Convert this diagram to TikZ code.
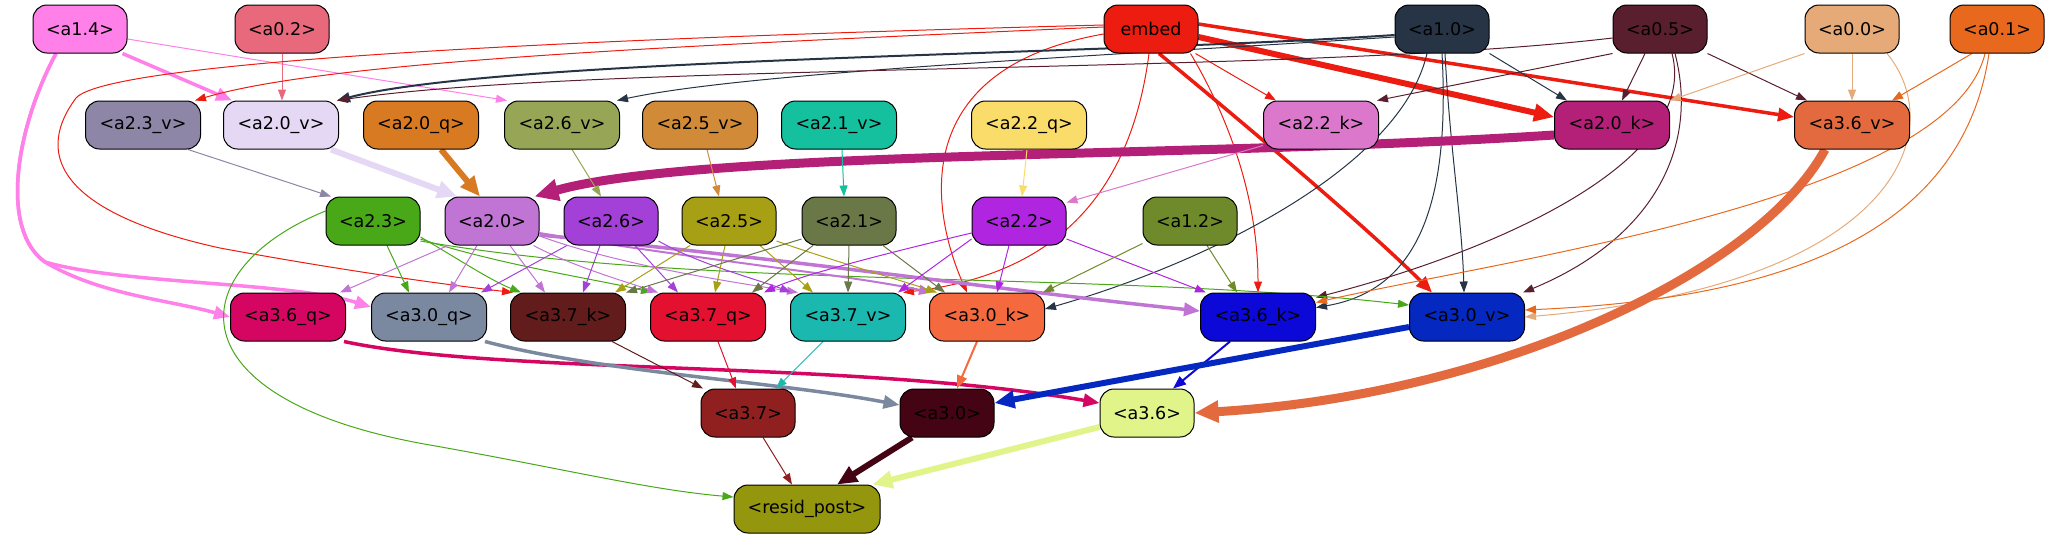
\documentclass[tikz,border=0pt]{standalone}
\usepackage{fontspec}
\setmainfont{DejaVu Sans}
\usetikzlibrary{arrows.meta,backgrounds}
\definecolor{c14}{HTML}{FF80E8}
\definecolor{c02}{HTML}{E8687C}
\definecolor{cemb}{HTML}{EC1C10}
\definecolor{c10}{HTML}{263445}
\definecolor{c05}{HTML}{5A1F2E}
\definecolor{c00}{HTML}{E5AA78}
\definecolor{c01}{HTML}{E8691E}
\definecolor{c23v}{HTML}{8E86A6}
\definecolor{c20v}{HTML}{E4D8F4}
\definecolor{c20q}{HTML}{D87A22}
\definecolor{c26v}{HTML}{96A656}
\definecolor{c25v}{HTML}{D08A38}
\definecolor{c21v}{HTML}{14C09E}
\definecolor{c22q}{HTML}{FADC6A}
\definecolor{c22k}{HTML}{DC78CC}
\definecolor{c20k}{HTML}{B42078}
\definecolor{c36v}{HTML}{E26A3E}
\definecolor{c23}{HTML}{48A818}
\definecolor{c20}{HTML}{C074D4}
\definecolor{c26}{HTML}{A240D8}
\definecolor{c25}{HTML}{A8A014}
\definecolor{c21}{HTML}{6A7848}
\definecolor{c22}{HTML}{B026E0}
\definecolor{c12}{HTML}{6E8A2A}
\definecolor{c36q}{HTML}{D40662}
\definecolor{c30q}{HTML}{7A88A0}
\definecolor{c37k}{HTML}{621C1C}
\definecolor{c37q}{HTML}{E41030}
\definecolor{c37v}{HTML}{1AB8AE}
\definecolor{c30k}{HTML}{F46A3E}
\definecolor{c36k}{HTML}{0C08D8}
\definecolor{c30v}{HTML}{0428C0}
\definecolor{c37}{HTML}{902020}
\definecolor{c30}{HTML}{440414}
\definecolor{c36}{HTML}{E0F48A}
\definecolor{cres}{HTML}{94960E}
\tikzset{
  nd/.style={draw=black,line width=1pt,rounded corners=14pt,minimum width=94pt,minimum height=48pt,inner sep=0pt,font=\fontsize{17.5}{20}\selectfont,text=black},
  wd/.style={minimum width=115pt},
  e1/.style={line width=1pt,-{Triangle[length=11pt,width=8pt]}},
  e2/.style={line width=2pt,-{Triangle[length=13pt,width=10pt]}},
  e3/.style={line width=3.5pt,-{Triangle[length=16pt,width=13pt]}},
  e4/.style={line width=6pt,-{Triangle[length=20pt,width=17pt]}},
  e5/.style={line width=9pt,-{Triangle[length=24pt,width=21pt]}}
}
\begin{document}
\begin{tikzpicture}[x=1pt,y=-1pt]
\useasboundingbox (0,0) rectangle (2050,539);
% row 1
\node[nd,fill=c14] (a14) at (80,29) {<a1.4>};
\node[nd,fill=c02] (a02) at (282,29) {<a0.2>};
\node[nd,fill=cemb] (emb) at (1151,29) {embed};
\node[nd,fill=c10] (a10) at (1442,29) {<a1.0>};
\node[nd,fill=c05] (a05) at (1660,29) {<a0.5>};
\node[nd,fill=c00] (a00) at (1852,29) {<a0.0>};
\node[nd,fill=c01] (a01) at (1997,29) {<a0.1>};
% row 2
\node[nd,wd,fill=c23v] (a23v) at (143,125) {<a2.3\_v>};
\node[nd,wd,fill=c20v] (a20v) at (281,125) {<a2.0\_v>};
\node[nd,wd,fill=c20q] (a20q) at (421,125) {<a2.0\_q>};
\node[nd,wd,fill=c26v] (a26v) at (562,125) {<a2.6\_v>};
\node[nd,wd,fill=c25v] (a25v) at (700,125) {<a2.5\_v>};
\node[nd,wd,fill=c21v] (a21v) at (839,125) {<a2.1\_v>};
\node[nd,wd,fill=c22q] (a22q) at (1029,125) {<a2.2\_q>};
\node[nd,wd,fill=c22k] (a22k) at (1321,125) {<a2.2\_k>};
\node[nd,wd,fill=c20k] (a20k) at (1612,125) {<a2.0\_k>};
\node[nd,wd,fill=c36v] (a36v) at (1852,125) {<a3.6\_v>};
% row 3
\node[nd,fill=c23] (a23) at (373,221) {<a2.3>};
\node[nd,fill=c20] (a20) at (492,221) {<a2.0>};
\node[nd,fill=c26] (a26) at (611,221) {<a2.6>};
\node[nd,fill=c25] (a25) at (729,221) {<a2.5>};
\node[nd,fill=c21] (a21) at (849,221) {<a2.1>};
\node[nd,fill=c22] (a22) at (1019,221) {<a2.2>};
\node[nd,fill=c12] (a12) at (1190,221) {<a1.2>};
% row 4
\node[nd,wd,fill=c36q] (a36q) at (288,317) {<a3.6\_q>};
\node[nd,wd,fill=c30q] (a30q) at (429,317) {<a3.0\_q>};
\node[nd,wd,fill=c37k] (a37k) at (568,317) {<a3.7\_k>};
\node[nd,wd,fill=c37q] (a37q) at (708,317) {<a3.7\_q>};
\node[nd,wd,fill=c37v] (a37v) at (848,317) {<a3.7\_v>};
\node[nd,wd,fill=c30k] (a30k) at (987,317) {<a3.0\_k>};
\node[nd,wd,fill=c36k] (a36k) at (1258,317) {<a3.6\_k>};
\node[nd,wd,fill=c30v] (a30v) at (1467,317) {<a3.0\_v>};
% row 5
\node[nd,fill=c37] (a37) at (748,413) {<a3.7>};
\node[nd,fill=c30] (a30) at (947,413) {<a3.0>};
\node[nd,fill=c36] (a36) at (1147,413) {<a3.6>};
% row 6
\node[nd,minimum width=146pt,fill=cres] (res) at (807,509) {<resid\_post>};

\begin{scope}[on background layer]
% a1.4
\draw[e3,c14] ([xshift=-5pt]a14.south east) -- ([xshift=-49pt]a20v.north);
\draw[e1,c14] ([yshift=-10pt]a14.east) -- ([xshift=-55pt]a26v.north);
\draw[e3,c14] ([xshift=-24pt]a14.south) .. controls (15,130) and (0,230) .. (45,262) .. controls (100,295) and (170,300) .. (a36q.west);
\draw[e3,c14] ([xshift=-24pt]a14.south) .. controls (15,130) and (0,230) .. (45,262) .. controls (120,284) and (290,282) .. ([yshift=10pt]a30q.west);
% a0.2
\draw[e1,c02] (a02.south) -- ([xshift=1pt]a20v.north);
% embed
\draw[e1,cemb] ([yshift=2pt]emb.west) .. controls (700,45) and (330,60) .. ([xshift=52pt]a23v.north);
\draw[e1,cemb] ([yshift=4pt]emb.west) .. controls (600,38) and (110,60) .. (76,98) .. controls (30,160) and (70,215) .. (220,248) .. controls (350,272) and (450,285) .. ([xshift=-55pt]a37k.north);
\draw[e1,cemb] ([xshift=-3pt]emb.south east) -- ([xshift=-45pt]a22k.north);
\draw[e4,cemb] ([yshift=-8pt]emb.east) -- ([yshift=8pt]a20k.west);
\draw[e3,cemb] ([yshift=5pt]emb.east) -- ([yshift=8pt]a36v.west);
\draw[e3,cemb] ([xshift=8pt]emb.south) .. controls (1240,120) and (1370,230) .. ([xshift=-35pt]a30v.north);
\draw[e1,cemb] ([xshift=-8pt]emb.south east) .. controls (1230,120) and (1258,200) .. (a36k.north);
\draw[e1,cemb] ([yshift=-5pt]emb.west) .. controls (900,70) and (935,220) .. ([xshift=-20pt]a30k.north);
\draw[e1,cemb] ([xshift=-2pt]emb.south) .. controls (1130,200) and (1050,275) .. ([xshift=55pt]a37v.north);
% a1.0
\draw[e2,c10] ([yshift=-6pt]a10.west) .. controls (1100,55) and (500,58) .. ([xshift=-2pt]a20v.north east);
\draw[e1,c10] ([yshift=-8pt]a10.west) .. controls (1100,56) and (750,72) .. ([xshift=55pt]a26v.north);
\draw[e1,c10] (a10.south east) -- ([xshift=-45pt]a20k.north);
\draw[e1,c10] ([xshift=3pt]a10.south) .. controls (1450,150) and (1462,220) .. ([xshift=-3pt]a30v.north);
\draw[e1,c10] (a10.south) .. controls (1450,200) and (1420,290) .. ([yshift=-15pt]a36k.north east);
\draw[e1,c10] ([xshift=-15pt]a10.south) .. controls (1400,170) and (1200,265) .. ([yshift=8pt]a30k.east);
% a0.5
\draw[e1,c05] ([yshift=-9pt]a05.west) .. controls (1300,75) and (600,62) .. ([xshift=-2pt]a20v.north east);
\draw[e1,c05] (a05.south west) -- ([xshift=-2pt]a22k.north east);
\draw[e1,c05] ([xshift=-15pt]a05.south) -- ([xshift=10pt]a20k.north);
\draw[e1,c05] (a05.south east) -- ([xshift=-45pt]a36v.north);
\draw[e1,c05] ([xshift=15pt]a05.south) .. controls (1700,150) and (1650,240) .. ([xshift=-2pt]a30v.north east);
\draw[e1,c05] ([xshift=12pt]a05.south) .. controls (1700,160) and (1500,250) .. ([yshift=-5pt]a36k.north east);
% a0.0
\draw[e1,c00] (a00.south west) -- (a20k.north east);
\draw[e1,c00] (a00.south) -- (a36v.north);
\draw[e1,c00] ([xshift=35pt]a00.south) .. controls (1950,130) and (1900,285) .. (a30v.east);
% a0.1
\draw[e1,c01] ([xshift=-25pt]a01.south) -- ([xshift=40pt]a36v.north);
\draw[e1,c01] ([xshift=-8pt]a01.south) .. controls (1960,250) and (1750,300) .. ([yshift=7pt]a30v.east);
\draw[e1,c01] ([xshift=-12pt]a01.south) .. controls (1950,200) and (1500,260) .. ([yshift=-10pt]a36k.north east);
% row 2 -> row 3
\draw[e1,c23v] ([xshift=45pt]a23v.south) -- ([xshift=-42pt]a23.north);
\draw[e4,c20v] ([xshift=-8pt]a20v.south east) -- ([xshift=-35pt]a20.north);
\draw[e4,c20q] ([xshift=20pt]a20q.south) -- ([xshift=-12pt]a20.north);
\draw[e5,c20k] ([yshift=-10pt]a20k.west) .. controls (1200,158) and (700,150) .. ([xshift=-5pt]a20.north east);
\draw[e1,c26v] ([xshift=10pt]a26v.south) -- ([xshift=-10pt]a26.north);
\draw[e1,c25v] ([xshift=7pt]a25v.south) -- ([xshift=-10pt]a25.north);
\draw[e1,c21v] ([xshift=3pt]a21v.south) -- ([xshift=-5pt]a21.north);
\draw[e1,c22q] ([xshift=-2pt]a22q.south) -- ([xshift=3pt]a22.north);
\draw[e1,c22k] ([yshift=4pt]a22k.south west) -- ([yshift=-6pt]a22.north east);
\draw[e5,c36v] ([xshift=-27pt]a36v.south) .. controls (1760,270) and (1500,395) .. (a36.east);
% a2.3
\draw[e1,c23] ([xshift=14pt]a23.south) -- ([xshift=-20pt]a30q.north);
\draw[e1,c23] ([yshift=-16pt]a23.east) .. controls (460,260) and (490,280) .. ([xshift=-47pt]a37k.north);
\draw[e1,c23] ([yshift=-18pt]a23.east) .. controls (500,265) and (600,280) .. ([xshift=-56pt]a37q.north);
\draw[e1,c23] ([yshift=-20pt]a23.east) .. controls (700,290) and (1100,270) .. ([yshift=12pt]a30v.west);
\draw[e1,c23] ([yshift=10pt]a23.west) .. controls (180,270) and (170,400) .. (430,445) .. controls (560,468) and (650,490) .. ([yshift=12pt]res.west);
% a2.0
\draw[e1,c20] ([xshift=-44pt]a20.south) -- ([xshift=52pt]a36q.north);
\draw[e1,c20] ([xshift=-15pt]a20.south) -- ([xshift=20pt]a30q.north);
\draw[e1,c20] ([xshift=18pt]a20.south) -- ([xshift=-23pt]a37k.north);
\draw[e1,c20] ([xshift=-6pt]a20.south east) .. controls (570,265) and (620,280) .. ([xshift=-50pt]a37q.north);
\draw[e1,c20] ([yshift=-15pt]a20.east) .. controls (620,265) and (720,280) .. ([xshift=-50pt]a37v.north);
\draw[e2,c20] ([yshift=-12pt]a20.east) .. controls (700,260) and (850,275) .. ([xshift=-55pt]a30k.north);
\draw[e3,c20] ([yshift=-14pt]a20.east) .. controls (800,260) and (1000,290) .. ([yshift=6pt]a36k.west);
% a2.6
\draw[e1,c26] ([xshift=-44pt]a26.south) -- ([xshift=52pt]a30q.north);
\draw[e1,c26] ([xshift=-11pt]a26.south) -- ([xshift=15pt]a37k.north);
\draw[e1,c26] ([xshift=24pt]a26.south) -- ([xshift=-30pt]a37q.north);
\draw[e1,c26] ([yshift=-20pt]a26.east) .. controls (700,265) and (760,280) .. ([xshift=-57pt]a37v.north);
% a2.5
\draw[e1,c25] ([xshift=-39pt]a25.south) -- ([xshift=47pt]a37k.north);
\draw[e1,c25] ([xshift=-4pt]a25.south) -- ([xshift=7pt]a37q.north);
\draw[e1,c25] ([xshift=31pt]a25.south) -- ([xshift=-35pt]a37v.north);
\draw[e1,c25] ([yshift=-20pt]a25.east) .. controls (830,260) and (900,280) .. ([xshift=-50pt]a30k.north);
% a2.1
\draw[e1,c21] ([yshift=-18pt]a21.west) -- ([xshift=58pt]a37k.north);
\draw[e1,c21] ([xshift=-36pt]a21.south) -- ([xshift=44pt]a37q.north);
\draw[e1,c21] (a21.south) -- (a37v.north);
\draw[e1,c21] ([xshift=34pt]a21.south) -- ([xshift=-42pt]a30k.north);
% a2.2
\draw[e1,c22] ([yshift=-12pt]a22.west) .. controls (900,250) and (800,275) .. ([xshift=56pt]a37q.north);
\draw[e1,c22] ([yshift=-18pt]a22.west) -- ([xshift=50pt]a37v.north);
\draw[e1,c22] ([xshift=-10pt]a22.south) -- ([xshift=10pt]a30k.north);
\draw[e1,c22] ([yshift=-18pt]a22.east) -- ([xshift=-52pt]a36k.north);
% a1.2
\draw[e1,c12] ([yshift=2pt]a12.south west) -- ([xshift=-2pt]a30k.north east);
\draw[e1,c12] ([xshift=17pt]a12.south) -- ([xshift=-21pt]a36k.north);
% row 4 -> row 5
\draw[e3,c36q] ([xshift=-2pt]a36q.south east) .. controls (500,375) and (850,360) .. ([yshift=10pt]a36.west);
\draw[e3,c30q] ([xshift=-2pt]a30q.south east) .. controls (600,372) and (780,382) .. ([yshift=8pt]a30.west);
\draw[e1,c37k] ([xshift=44pt]a37k.south) -- ([xshift=-45pt]a37.north);
\draw[e1,c37q] ([xshift=10pt]a37q.south) -- ([xshift=-12pt]a37.north);
\draw[e1,c37v] ([xshift=-25pt]a37v.south) -- ([xshift=28pt]a37.north);
\draw[e2,c30k] ([xshift=-10pt]a30k.south) -- ([xshift=10pt]a30.north);
\draw[e2,c36k] ([xshift=-28pt]a36k.south) -- ([xshift=26pt]a36.north);
\draw[e4,c30v] ([yshift=-10pt]a30v.west) -- ([yshift=10pt]a30.east);
% row 5 -> row 6
\draw[e1,c37] ([xshift=15pt]a37.south) -- ([xshift=-15pt]res.north);
\draw[e4,c30] ([xshift=-35pt]a30.south) -- ([xshift=30pt]res.north);
\draw[e4,c36] ([yshift=-14pt]a36.west) -- ([xshift=-8pt]res.north east);
\end{scope}
\end{tikzpicture}
\end{document}
